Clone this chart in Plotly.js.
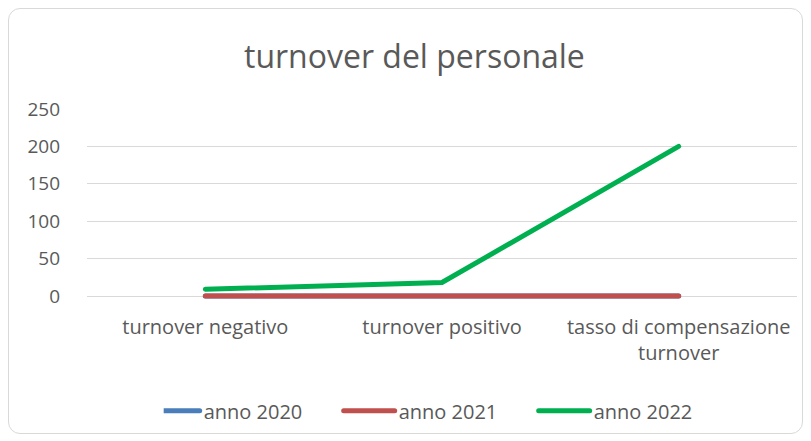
<!DOCTYPE html>
<html><head><meta charset="utf-8">
<script src="https://cdn.plot.ly/plotly-3.0.1.min.js"></script>
<style>
html,body{margin:0;padding:0;background:#fff;}
#wrap{position:relative;width:811px;height:441px;}
#chart{width:811px;height:441px;}
#frame{position:absolute;left:8px;top:8px;width:793px;height:424px;border:1px solid #d9d9d9;border-radius:12px;pointer-events:none;}
</style></head>
<body>
<div id="wrap"><div id="chart"></div><div id="frame"></div></div>
<script>
var categories = ["turnover negativo", "turnover positivo", "tasso di compensazione<br>turnover"];
var seriesNames = ["anno 2020", "anno 2021", "anno 2022"];
var anno2020 = [0, 0, 0];
var anno2021 = [0, 0, 0];
var anno2022 = [9, 18, 200];
var yTicks = [0, 50, 100, 150, 200, 250];
var colors = ["#4a7ebb", "#c0504d", "#00b050"];
var allValues = [anno2020, anno2021, anno2022];

var traces = allValues.map(function(v, i){
  return {x: categories, y: v, type: 'scatter', mode: 'lines', name: seriesNames[i],
          line: {color: colors[i], width: 5}};
});
var fam = "Open Sans, Liberation Sans, sans-serif";
var grey = "#595959";
var layout = {
  width: 811, height: 441,
  margin: {l: 87, r: 14, t: 109, b: 141},
  paper_bgcolor: "#fff", plot_bgcolor: "#fff",
  font: {family: fam, color: grey, size: 20},
  title: {text: "turnover del personale", font: {size: 32, color: grey, family: fam},
          x: 0.511, xref: "container", xanchor: "center", y: 0.871, yref: "container", yanchor: "middle"},
  xaxis: {type: "category", range: [-0.5, 2.5], showgrid: false, zeroline: false,
          showline: false, ticks: "", ticklabelstandoff: 14,
          tickfont: {size: 20, color: grey, family: fam}, fixedrange: true, automargin: false},
  yaxis: {range: [-4, 250], tickvals: yTicks, showgrid: true, gridcolor: "#d9d9d9", gridwidth: 1,
          zeroline: false, showline: false, ticks: "", ticklabelstandoff: 26,
          tickfont: {size: 19, color: grey, family: fam}, automargin: false, fixedrange: true},
  showlegend: true,
  legend: {orientation: "h", x: 0.108, xanchor: "left", y: -0.58, yanchor: "middle",
           entrywidth: 150, entrywidthmode: "pixels",
           font: {size: 20, color: grey, family: fam}, itemwidth: 30, tracegroupgap: 0, traceorder: "normal"}
};
Plotly.newPlot("chart", traces, layout, {displayModeBar: false, staticPlot: true}).then(function(gd){
  // lengthen legend line symbols like the original (Excel-style long swatches)
  gd.querySelectorAll('.legend .legendlines path').forEach(function(p){
    p.setAttribute('d', 'M-15,0h51');
    p.style.strokeLinecap = 'round';
  });
  gd.querySelectorAll('.scatterlayer .js-line').forEach(function(p){
    p.style.strokeLinecap = 'round';
  });
});
</script>
</body></html>
